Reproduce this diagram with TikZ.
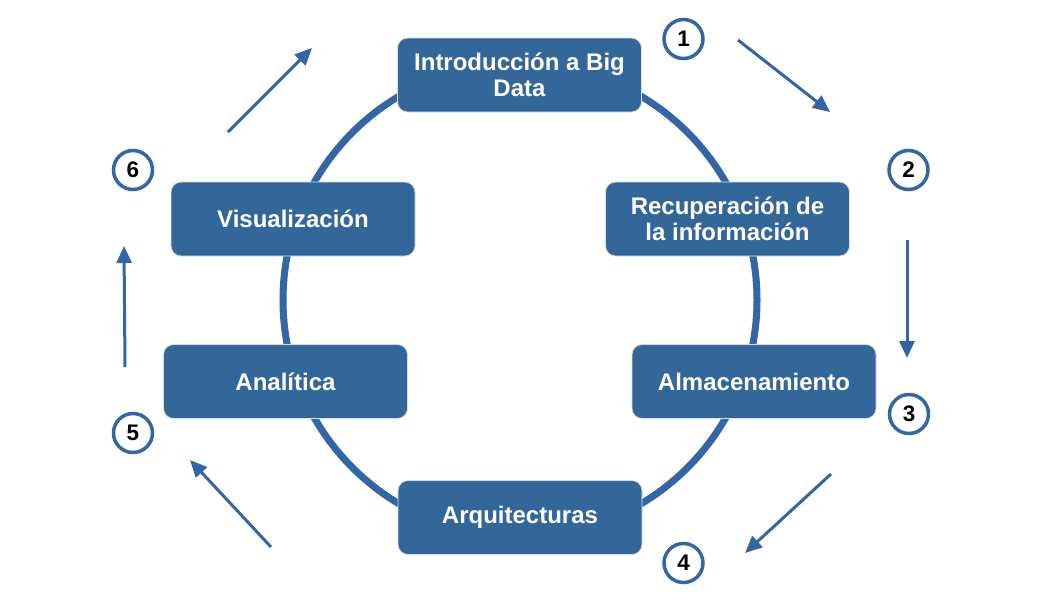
\documentclass[tikz,border=0pt]{standalone}
\usepackage{fontspec}
\setmainfont{Liberation Sans}
\usetikzlibrary{arrows.meta}
\definecolor{steel}{HTML}{336699}
\definecolor{ringblue}{HTML}{3465A4}
\definecolor{edgegray}{HTML}{D8DDE3}
\begin{document}
\begin{tikzpicture}[x=1pt,y=-1pt,
  stage/.style={rectangle, rounded corners=10pt, fill=steel, draw=edgegray, line width=0.8pt,
    text=white, font=\fontsize{24}{26}\selectfont\bfseries, align=center,
    minimum width=244pt, minimum height=74pt, inner sep=0pt},
  badge/.style={circle, draw=ringblue, line width=3.5pt, fill=white, minimum size=39pt,
    inner sep=0pt, font=\fontsize{22.5}{22.5}\selectfont\bfseries, text=black},
  flow/.style={draw=ringblue, line width=3pt, -{Triangle[length=17pt,width=15pt]}}]
\useasboundingbox (0,0) rectangle (1058,595);
\fill[white] (0,0) rectangle (1058,595);

% cycle ring behind the stages
\draw[ringblue, line width=7pt] (520,300) circle[radius=237];

% stages
\node[stage] (intro) at (519.5,75) {Introducción a Big\\Data};
\node[stage] (recup) at (727.5,219) {Recuperación de\\la información};
\node[stage] (almac) at (754,381.5) {Almacenamiento};
\node[stage] (arqui) at (520,517.5) {Arquitecturas};
\node[stage] (anali) at (285.5,381.5) {Analítica};
\node[stage] (visua) at (293,219) {Visualización};

% step numbers
\node[badge] (n1) at (683.5,39) {1};
\node[badge] (n2) at (908.5,170) {2};
\node[badge] (n3) at (909,414) {3};
\node[badge] (n4) at (683.5,563) {4};
\node[badge] (n5) at (133,433) {5};
\node[badge] (n6) at (133,170) {6};

% direction arrows
\coordinate (a1s) at (738,40);  \coordinate (a1e) at (830,112);
\coordinate (a2s) at (907,240); \coordinate (a2e) at (907,358);
\coordinate (a3s) at (831,474); \coordinate (a3e) at (745,553);
\coordinate (a4s) at (271,547); \coordinate (a4e) at (190,460);
\coordinate (a5s) at (125,367); \coordinate (a5e) at (124,246);
\coordinate (a6s) at (228,132); \coordinate (a6e) at (312,48);
\draw[flow] (a1s) -- (a1e);
\draw[flow] (a2s) -- (a2e);
\draw[flow] (a3s) -- (a3e);
\draw[flow] (a4s) -- (a4e);
\draw[flow] (a5s) -- (a5e);
\draw[flow] (a6s) -- (a6e);
\end{tikzpicture}
\end{document}
